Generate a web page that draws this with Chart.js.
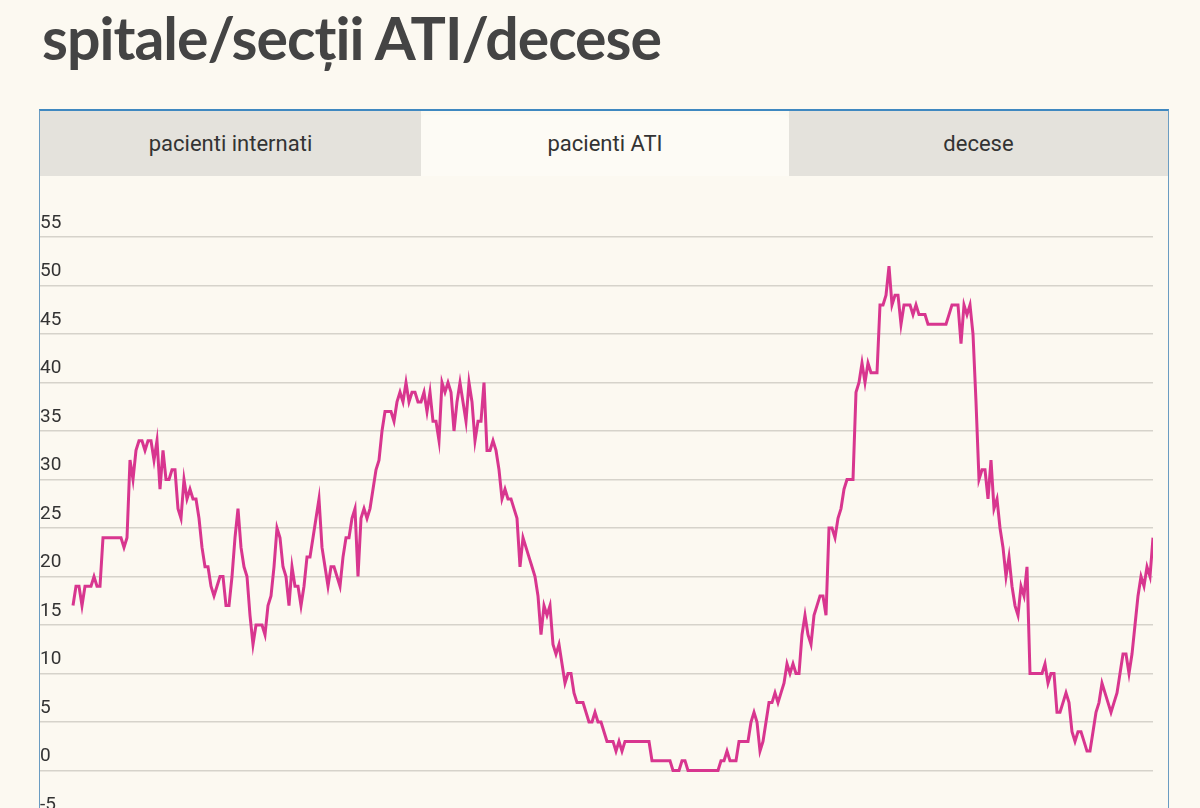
<!DOCTYPE html>
<html>
<head>
<meta charset="utf-8">
<script src="https://cdn.jsdelivr.net/npm/chart.js@4.4.1/dist/chart.umd.min.js"></script>
<style>
  html, body { margin:0; padding:0; background:#fcf9f1; width:1200px; height:808px; overflow:hidden; }
  #title { position:absolute; left:42px; top:0px; margin:0; font-family:'Lato', sans-serif; font-weight:700; font-size:59px; line-height:76px; color:#444; letter-spacing:-1px; }
  #box { position:absolute; left:39px; top:109px; width:1128px; height:760px; border:1px solid #6a9cc2; border-top:2px solid #3f88c0; background:#fcf9f1; }
  .tab { position:absolute; top:0; height:65px; font-family:'Roboto', sans-serif; font-size:22px; color:#333; display:flex; align-items:center; justify-content:center; box-sizing:border-box; }
  #t1 { left:0; width:381px; background:#e4e2dc; }
  #t2 { left:381px; width:368px; top:4px; height:61px; background:#fdfbf5; border-radius:5px 5px 0 0; padding-bottom:4px; }
  #t3 { left:749px; width:379px; background:#e4e2dc; }
  #wrap { position:absolute; left:0; top:65px; width:1128px; height:663px; }
</style>
</head>
<body>
<h1 id="title">spitale/secții ATI/decese</h1>
<div id="box">
  <div class="tab" id="t1">pacienti internati</div>
  <div class="tab" id="t2">pacienti ATI</div>
  <div class="tab" id="t3">decese</div>
  <div id="wrap"><canvas id="c" width="1128" height="663"></canvas></div>
</div>
<script>
// daily ATI patient counts
const atiValues = [
  17,19,19,17,19,19,19,20,19,19,
  24,24,24,24,24,24,24,23,24,32,
  30,33,34,34,33,34,34,32,34,29,
  33,30,30,31,31,27,26,30,28,29,
  28,28,26,23,21,21,19,18,19,20,
  20,17,17,20,24,27,23,21,20,16,
  13,15,15,15,14,17,18,21,25,24,
  21,20,17,21,19,19,17,19,22,22,
  24,26,28,23,21,19,21,21,20,19,
  22,24,24,26,27,20,26,27,26,27,
  29,31,32,35,37,37,37,36,38,39,
  38,40,38,39,39,38,38,39,37,39,
  36,36,34,40,39,40,39,35,38,40,
  38,36,40,38,34,36,36,40,33,33,
  34,33,31,28,29,28,28,27,26,21,
  24,23,22,21,20,18,14,17,16,17,
  13,12,13,11,9,10,10,8,7,7,
  7,6,5,5,6,5,5,4,3,3,
  3,2,3,2,3,3,3,3,3,3,
  3,3,3,1,1,1,1,1,1,1,
  0,0,0,1,1,0,0,0,0,0,
  0,0,0,0,0,0,1,1,2,1,
  1,1,3,3,3,3,5,6,5,2,
  3,5,7,7,8,7,8,9,11,10,
  11,10,10,14,16,14,13,16,17,18,
  18,16,25,25,24,26,27,29,30,30,
  30,39,40,42,40,42,41,41,41,48,
  48,49,52,48,49,49,46,48,48,48,
  47,48,47,47,47,46,46,46,46,46,
  46,46,47,48,48,48,44,48,47,48,
  45,38,30,31,31,28,32,27,28,25,
  23,20,22,19,17,16,19,18,21,10,
  10,10,10,10,11,9,10,10,6,6,
  7,8,7,4,3,4,4,3,2,2,
  4,6,7,9,8,7,6,7,8,10,
  12,12,10,12,15,18,20,19,21,20,
  24
];
// day index of each value (categories)
const days = atiValues.map((_, i) => i);
// y-axis tick values
const yTicks = [-5, 0, 5, 10, 15, 20, 25, 30, 35, 40, 45, 50, 55];

new Chart(document.getElementById('c'), {
  type: 'line',
  data: {
    datasets: [{
      data: days.map((d, i) => ({ x: d, y: atiValues[i] })),
      borderColor: '#d8368f',
      borderWidth: 3,
      pointRadius: 0,
      tension: 0,
      fill: false
    }]
  },
  options: {
    responsive: false,
    animation: false,
    layout: { padding: { top: 61, right: 15, left: 0, bottom: 20 } },
    plugins: { legend: { display: false }, tooltip: { enabled: false } },
    scales: {
      x: {
        type: 'linear',
        min: -11,
        max: days[days.length - 1],
        display: false
      },
      y: {
        min: yTicks[0],
        max: yTicks[yTicks.length - 1],
        afterBuildTicks: (s) => { s.ticks = yTicks.map(v => ({ value: v })); },
        border: { display: false },
        grid: { color: '#d6d3cb', lineWidth: 1.5, drawTicks: false },
        ticks: {
          mirror: true,
          padding: 0,
          labelOffset: -14,
          color: '#333',
          font: { family: 'Roboto', size: 19 }
        }
      }
    }
  }
});
</script>
</body>
</html>
